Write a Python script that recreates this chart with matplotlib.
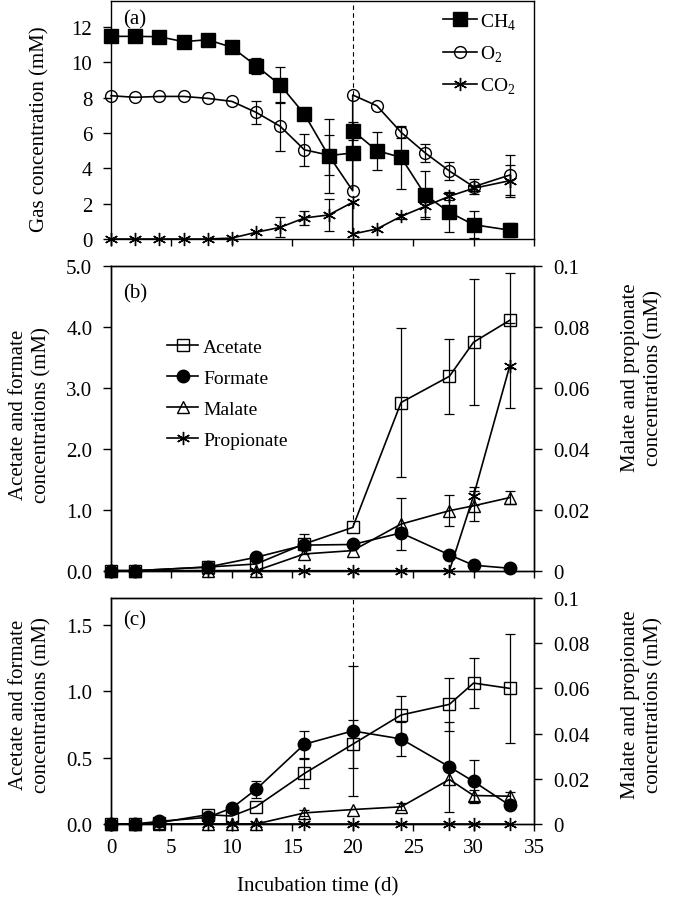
import matplotlib
matplotlib.use('Agg')
import matplotlib.pyplot as plt
from matplotlib.ticker import FormatStrFormatter, FixedLocator
import numpy as np

plt.rcParams['font.family'] = ['Liberation Serif', 'DejaVu Serif']
plt.rcParams['mathtext.fontset'] = 'custom'
plt.rcParams['mathtext.rm'] = 'Liberation Serif'
plt.rcParams['axes.linewidth'] = 1.0

# ---------------- data ----------------
# panel (a): gases
days_a = [0, 2, 4, 6, 8, 10, 12, 14, 16, 18, 20, 20, 22, 24, 26, 28, 30, 33]
ch4 = [11.47, 11.47, 11.45, 11.17, 11.28, 10.85, 9.81, 8.72, 7.07, 4.72, 4.87, 6.13, 5.0, 4.62, 2.49, 1.51, 0.81, 0.50]
ch4_err = [0, 0, 0.15, 0, 0, 0.1, 0.45, 1.0, 0, 2.1, 0, 0.5, 1.07, 1.8, 1.34, 1.13, 0.75, 0.4]
o2 = [8.11, 8.02, 8.07, 8.07, 7.96, 7.79, 7.17, 6.38, 5.05, 4.75, 2.73, 8.15, 7.54, 6.04, 4.87, 3.85, 2.96, 3.62]
o2_err = [0, 0, 0, 0, 0, 0, 0.66, 1.38, 0.89, 1.13, 0, 0, 0, 0.3, 0.53, 0.52, 0.43, 1.13]
co2 = [0, 0, 0, 0, 0, 0.05, 0.38, 0.66, 1.19, 1.36, 2.08, 0.28, 0.57, 1.28, 1.85, 2.42, 2.87, 3.30]
co2_err = [0, 0, 0, 0, 0, 0, 0, 0.57, 0.42, 0.9, 0, 0, 0, 0.15, 0.6, 0.2, 0.15, 0.9]

# panel (b)
days_b = [0, 2, 8, 12, 16, 20, 24, 28, 30, 33]
acetate_b = [0, 0, 0.06, 0.11, 0.44, 0.71, 2.76, 3.19, 3.75, 4.11]
acetate_b_err = [0, 0, 0, 0, 0.16, 0, 1.23, 0.62, 1.03, 0.78]
formate_b = [0, 0, 0.06, 0.22, 0.42, 0.43, 0.62, 0.26, 0.09, 0.04]
formate_b_err = [0, 0, 0, 0, 0, 0, 0, 0, 0, 0]
malate_b = [0, 0, 0, 0, 0.0055, 0.0066, 0.0153, 0.0197, 0.0213, 0.024]
malate_b_err = [0, 0, 0, 0, 0, 0, 0.0086, 0.005, 0.005, 0.002]
propionate_b = [0, 0, 0, 0, 0, 0, 0, 0, 0.0246, 0.0673]
propionate_b_err = [0, 0, 0, 0, 0, 0, 0, 0, 0.003, 0.014]

# panel (c)
days_c = [0, 2, 4, 8, 10, 12, 16, 20, 24, 28, 30, 33]
acetate_c = [0, 0, 0.01, 0.07, 0.06, 0.13, 0.38, 0.60, 0.82, 0.90, 1.06, 1.02]
acetate_c_err = [0, 0, 0, 0, 0, 0, 0.11, 0.18, 0.14, 0.20, 0.19, 0.41]
formate_c = [0, 0, 0.02, 0.05, 0.12, 0.26, 0.60, 0.70, 0.64, 0.43, 0.32, 0.14]
formate_c_err = [0, 0, 0, 0, 0, 0.065, 0.10, 0.49, 0.13, 0.34, 0.16, 0]
malate_c = [0, 0, 0, 0, 0, 0, 0.0049, 0.0064, 0.0076, 0.0197, 0.0126, 0.0123]
malate_c_err = [0, 0, 0, 0, 0, 0, 0.0015, 0, 0.0015, 0, 0.0025, 0.002]
propionate_c = [0, 0, 0, 0, 0, 0, 0, 0, 0, 0, 0, 0]
propionate_c_err = [0, 0, 0, 0, 0, 0, 0, 0, 0, 0, 0, 0]

x_ticks = [0, 5, 10, 15, 20, 25, 30, 35]

# ---------------- figure ----------------
FS = 15
fig = plt.figure(figsize=(6.85, 9.03), dpi=100)
H = 903.0
L = 111 / 685.0
W = 423 / 685.0


def box(top, bottom):
    return [L, 1 - bottom / H, W, (bottom - top) / H]


ax_a = fig.add_axes(box(1.5, 240))
ax_b = fig.add_axes(box(267, 571.7))
ax_c = fig.add_axes(box(599, 825))

ASTER = (6, 2, 0)


def series(ax, x, y, err, marker, ms, filled, label):
    x = np.asarray(x, float)
    y = np.asarray(y, float)
    e = np.asarray(err, float)
    m = e > 0
    if m.any():
        ax.errorbar(x[m], y[m], yerr=e[m], fmt='none', ecolor='black',
                    elinewidth=0.9, capsize=3.5, capthick=0.9, clip_on=False, zorder=2)
    line, = ax.plot(x, y, color='black', lw=1.2, marker=marker, ms=ms,
                    mfc='black' if filled else 'none', mec='black', mew=1.0,
                    clip_on=False, zorder=3, label=label)
    return line


def style_main(ax, ylim, yticks, fmt, show_x):
    ax.set_xlim(0, 35)
    ax.set_ylim(*ylim)
    ax.xaxis.set_major_locator(FixedLocator(x_ticks))
    ax.yaxis.set_major_locator(FixedLocator(yticks))
    ax.yaxis.set_major_formatter(FormatStrFormatter(fmt))
    ax.tick_params(axis='y', direction='out', length=5.5, width=1.0, labelsize=FS, pad=8,
                   right=False)
    ax.tick_params(axis='x', direction='out', length=5, width=1.0, labelsize=FS, pad=5,
                   top=False, labelbottom=show_x)


def style_twin(ax2):
    ax2.set_ylim(0, 0.1)
    ax2.yaxis.set_major_locator(FixedLocator([0, 0.02, 0.04, 0.06, 0.08, 0.1]))
    ax2.yaxis.set_major_formatter(FormatStrFormatter('%g'))
    ax2.tick_params(axis='y', direction='out', length=5.5, width=1.0, labelsize=FS, pad=8)


DASH = (0, (4, 3))

# ---- panel (a)
l1 = series(ax_a, days_a, ch4, ch4_err, 's', 10, True, r'CH$_\mathregular{4}$')
l2 = series(ax_a, days_a, o2, o2_err, 'o', 8.5, False, r'O$_\mathregular{2}$')
l3 = series(ax_a, days_a, co2, co2_err, ASTER, 9.5, False, r'CO$_\mathregular{2}$')
style_main(ax_a, (0, 13.5), [0, 2, 4, 6, 8, 10, 12], '%d', False)
ax_a.vlines(20, o2[11], 13.5, colors='black', linestyles=DASH, lw=0.8, zorder=1)
ax_a.legend(handles=[l1, l2, l3], loc='upper left', bbox_to_anchor=(0.785, 0.955),
            frameon=False, fontsize=14, borderpad=0, borderaxespad=0,
            handlelength=1.75, handletextpad=0.15, labelspacing=0.62, numpoints=1)
ax_a.text(0.028, 0.965, '(a)', transform=ax_a.transAxes, fontsize=FS, va='top', ha='left')

# ---- panel (b)
ax_b2 = ax_b.twinx()
lb1 = series(ax_b, days_b, acetate_b, acetate_b_err, 's', 8, False, 'Acetate')
lb2 = series(ax_b, days_b, formate_b, formate_b_err, 'o', 9, True, 'Formate')
lb3 = series(ax_b2, days_b, malate_b, malate_b_err, '^', 8, False, 'Malate')
lb4 = series(ax_b2, days_b, propionate_b, propionate_b_err, ASTER, 9.5, False, 'Propionate')
style_main(ax_b, (0, 5.0), [0, 1, 2, 3, 4, 5], '%.1f', False)
style_twin(ax_b2)
ax_b.vlines(20, acetate_b[5], 5.0, colors='black', linestyles=DASH, lw=0.8, zorder=1)
ax_b2.legend(handles=[lb1, lb2, lb3, lb4], loc='upper left', bbox_to_anchor=(0.1324, 0.762),
             frameon=False, fontsize=14, borderpad=0, borderaxespad=0,
             handlelength=1.6, handletextpad=0.25, labelspacing=0.68, numpoints=1)
ax_b.text(0.028, 0.945, '(b)', transform=ax_b.transAxes, fontsize=FS, va='top', ha='left')

# ---- panel (c)
ax_c2 = ax_c.twinx()
series(ax_c, days_c, acetate_c, acetate_c_err, 's', 8, False, 'Acetate')
series(ax_c, days_c, formate_c, formate_c_err, 'o', 9, True, 'Formate')
series(ax_c2, days_c, malate_c, malate_c_err, '^', 8, False, 'Malate')
series(ax_c2, days_c, propionate_c, propionate_c_err, ASTER, 9.5, False, 'Propionate')
style_main(ax_c, (0, 1.7), [0, 0.5, 1.0, 1.5], '%.1f', True)
style_twin(ax_c2)
ax_c.vlines(20, formate_c[7] + formate_c_err[7], 1.7, colors='black',
            linestyles=DASH, lw=0.8, zorder=1)
ax_c.text(0.028, 0.945, '(c)', transform=ax_c.transAxes, fontsize=FS, va='top', ha='left')

# ---- axis titles
fig.text(40 / 685, 1 - 129 / H, 'Gas concentration (mM)', rotation=90,
         ha='center', va='center', fontsize=FS)
fig.text(30 / 685, 1 - 415 / H, 'Acetate and formate\nconcentrations (mM)', rotation=90,
         ha='center', va='center', fontsize=FS, multialignment='center', linespacing=1.3)
fig.text(30 / 685, 1 - 705 / H, 'Acetate and formate\nconcentrations (mM)', rotation=90,
         ha='center', va='center', fontsize=FS, multialignment='center', linespacing=1.3)
fig.text(642 / 685, 1 - 378 / H, 'Malate and propionate\nconcentrations (mM)', rotation=90,
         ha='center', va='center', fontsize=FS, multialignment='center', linespacing=1.3)
fig.text(642 / 685, 1 - 705 / H, 'Malate and propionate\nconcentrations (mM)', rotation=90,
         ha='center', va='center', fontsize=FS, multialignment='center', linespacing=1.3)
fig.text(318 / 685, 1 - 887 / H, 'Incubation time (d)', ha='center', va='center', fontsize=FS)

fig.savefig('out.png', dpi=100)
